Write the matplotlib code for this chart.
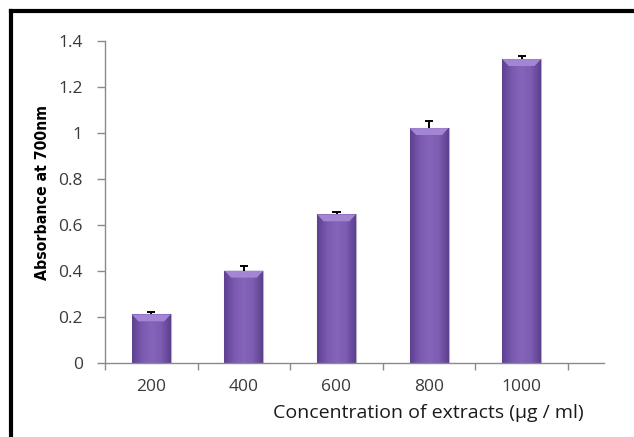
import numpy as np
import matplotlib
matplotlib.use("Agg")
import matplotlib.pyplot as plt
from matplotlib.lines import Line2D
from matplotlib.patches import Polygon
from matplotlib.colors import LinearSegmentedColormap
from matplotlib import font_manager

# Data
concentrations = ["200", "400", "600", "800", "1000"]
absorbance = [0.21, 0.40, 0.645, 1.02, 1.32]
abs_err = [0.012, 0.022, 0.012, 0.03, 0.012]
y_ticks = [0, 0.2, 0.4, 0.6, 0.8, 1, 1.2, 1.4]
y_tick_labels = ["0", "0.2", "0.4", "0.6", "0.8", "1", "1.2", "1.4"]

W, H = 634, 437
fig = plt.figure(figsize=(W / 100, H / 100), dpi=100)
fig.patch.set_facecolor("white")

available = {f.name for f in font_manager.fontManager.ttflist}
tick_font = "Open Sans" if "Open Sans" in available else "DejaVu Sans"

# Axes placement (pixels -> figure fraction)
ax_left, ax_right = 105, 604
ax_bottom, ax_top = 362.7, 40.7
ax = fig.add_axes([ax_left / W, 1 - ax_bottom / H,
                   (ax_right - ax_left) / W, (ax_bottom - ax_top) / H])

x = np.arange(len(concentrations))
cat_px = 92.6
xmax = -0.5 + (ax_right - ax_left) / cat_px
ax.set_xlim(-0.5, xmax)
ax.set_ylim(0, 1.4)

bar_w = 0.42
bars = ax.bar(x, absorbance, width=bar_w, color="#7c5bb2",
              edgecolor="#b9b2c4", linewidth=0.8, zorder=2)

# Horizontal shading inside each bar
cmap = LinearSegmentedColormap.from_list(
    "bar_shade", ["#5d418f", "#7a59b0", "#8565ba", "#7d5cb3", "#5c408c"])
grad = np.linspace(0, 1, 64).reshape(1, -1)
for b in bars:
    x0, w, h = b.get_x(), b.get_width(), b.get_height()
    im = ax.imshow(grad, cmap=cmap, aspect="auto",
                   extent=[x0, x0 + w, 0, h], zorder=2.1,
                   interpolation="bicubic")
    im.set_clip_path(b)
    # light bevel at the top of each bar
    bev_x = w * 0.17
    bev_y = 0.03
    ax.add_patch(Polygon([[x0, h], [x0 + w, h],
                          [x0 + w - bev_x, h - bev_y],
                          [x0 + bev_x, h - bev_y]],
                         closed=True, facecolor="#a286d4",
                         edgecolor="none", zorder=2.2))

# Upper error bars only
tops = np.array(absorbance) + np.array(abs_err)
cap = 0.045
ax.vlines(x, absorbance, tops, colors="black", linewidth=1.4, zorder=3)
ax.hlines(tops, x - cap, x + cap, colors="black", linewidth=1.4, zorder=3)

# Spines
for side in ("top", "right"):
    ax.spines[side].set_visible(False)
for side in ("left", "bottom"):
    ax.spines[side].set_color("#8a8a8a")
    ax.spines[side].set_linewidth(1.0)

ax.set_yticks(y_ticks)
ax.set_yticklabels(y_tick_labels)
ax.set_xticks(x)
ax.set_xticklabels(concentrations)
ax.set_xticks(np.arange(-0.5, len(concentrations)), minor=True)

ax.tick_params(axis="y", direction="out", length=6, width=1.0,
               color="#8a8a8a", pad=10, labelsize=12.5, labelcolor="#3a3a3a")
ax.tick_params(axis="x", which="major", length=0, pad=12,
               labelsize=12.5, labelcolor="#3a3a3a")
ax.tick_params(axis="x", which="minor", direction="out", length=5,
               width=1.0, color="#8a8a8a")
for lab in ax.get_xticklabels() + ax.get_yticklabels():
    lab.set_fontfamily(tick_font)

# Axis titles
fig.text(428 / W, 1 - 413 / H, "Concentration of extracts (µg / ml)",
         ha="center", va="center", fontsize=14, color="#1a1a1a",
         fontfamily=tick_font)
fig.text(43 / W, 1 - 193 / H, "Absorbance at 700nm", rotation=90,
         ha="center", va="center", fontsize=11.3, fontweight="bold",
         fontstretch="condensed", color="black", fontfamily="DejaVu Sans")

# Outer black frame (open to the right and bottom)
fy = 1 - 11.3 / H
fx = 11.3 / W
fig.add_artist(Line2D([fx, fx], [fy, 0], transform=fig.transFigure,
                      color="black", linewidth=3.0, solid_capstyle="projecting"))
fig.add_artist(Line2D([fx, 1], [fy, fy], transform=fig.transFigure,
                      color="black", linewidth=3.0, solid_capstyle="projecting"))

fig.savefig("out.png", dpi=100, facecolor="white")
